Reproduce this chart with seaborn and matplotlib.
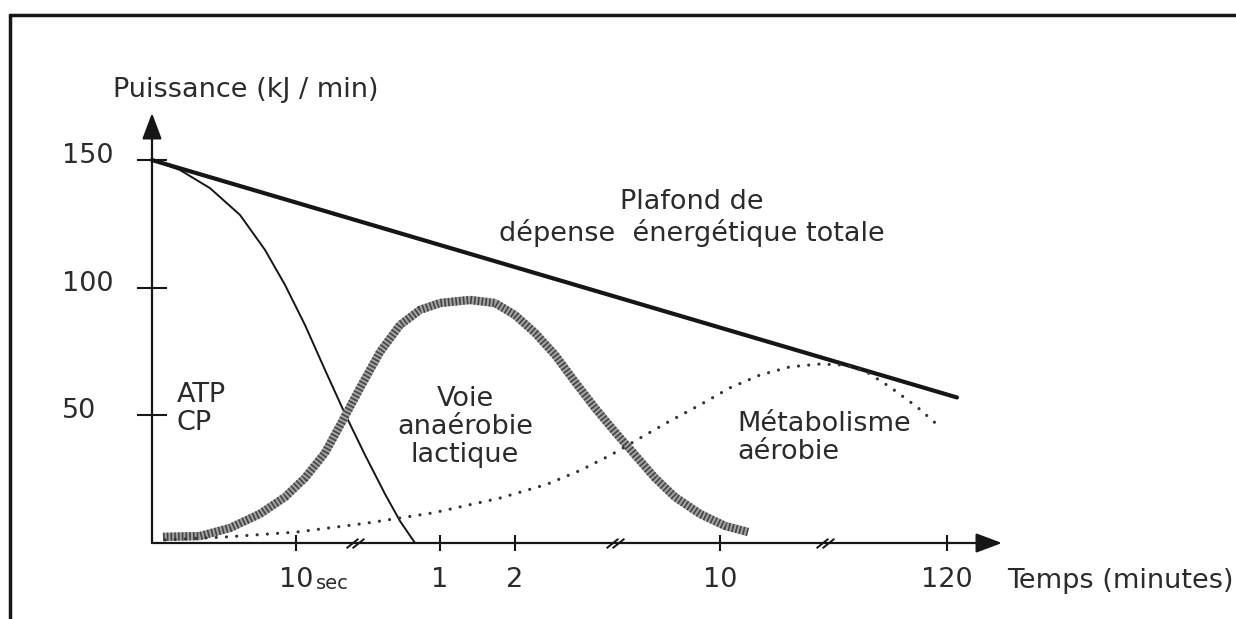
import matplotlib.pyplot as plt
import seaborn as sns
from matplotlib.lines import Line2D
from matplotlib.transforms import ScaledTranslation

# x is a schematic position along the time axis (not to scale), y is power in kJ/min
ceiling_x = [0, 805]
ceiling_y = [150, 57]

atp_x = [0, 28, 58, 88, 113, 133, 153, 173, 193, 213, 233, 248, 263]
atp_y = [150, 146.1, 139.0, 128.5, 114.8, 101.1, 85.4, 67.8, 50.6, 34.5, 19.2, 8.6, 0]

lactic_x = [11, 48, 78, 108, 133, 153, 173, 191, 208, 228, 248, 268, 288, 318, 343,
            363, 383, 403, 423, 443, 463, 483, 503, 523, 548, 573, 596]
lactic_y = [2.4, 2.7, 5.9, 11.4, 18.0, 25.5, 35.3, 48.2, 60.7, 74.8, 85.4, 91.3, 94.0,
            95.2, 94.0, 89.3, 82.3, 73.7, 63.1, 52.9, 43.5, 34.5, 25.5, 18.0, 11.4,
            6.7, 4.3]

aerobic_x = [13, 75, 145, 215, 281, 348, 395, 428, 458, 488, 518, 548, 578, 608, 638,
             668, 693, 715, 738, 765, 788]
aerobic_y = [1.2, 2.4, 4.3, 7.8, 11.8, 17.6, 23.0, 28.4, 34.3, 41.1, 47.8, 54.1, 60.8,
             65.8, 69.0, 70.1, 69.7, 66.9, 61.1, 53.3, 45.4]

x_tick_pos = [144, 288, 363, 568, 795]
x_tick_labels = ['10', '1', '2', '10', '120']
y_tick_pos = [50, 100, 150]
break_pos = [203, 463, 673]

ink = '#161616'
text_c = '#2b2b2b'
fs = 19.5

sns.set_theme(style='white')
plt.rcParams['font.family'] = ['DejaVu Sans']

W, H = 1236, 619
fig = plt.figure(figsize=(W / 100, H / 100), dpi=100)
ax = fig.add_axes([152 / W, 1 - 543 / H, 850 / W, 430 / H])
ax.set_xlim(0, 850)
ax.set_ylim(0, 430 / 2.553)
for s in ax.spines.values():
    s.set_visible(False)

# curves
sns.lineplot(x=ceiling_x, y=ceiling_y, ax=ax, color=ink, linewidth=3,
             estimator=None, errorbar=None, clip_on=False)
sns.lineplot(x=atp_x, y=atp_y, ax=ax, color=ink, linewidth=1.4,
             estimator=None, errorbar=None, clip_on=False)
sns.lineplot(x=lactic_x, y=lactic_y, ax=ax, color='#a2a2a2', linewidth=6,
             estimator=None, errorbar=None, clip_on=False, solid_capstyle='butt')
sns.lineplot(x=lactic_x, y=lactic_y, ax=ax, color='#444444', linewidth=6,
             estimator=None, errorbar=None, clip_on=False,
             linestyle=(0, (0.2, 0.25)), dash_capstyle='butt')
sns.lineplot(x=aerobic_x, y=aerobic_y, ax=ax, color='#333333', linewidth=2.3,
             estimator=None, errorbar=None, clip_on=False,
             linestyle=(0, (0.01, 3.2)), dash_capstyle='round')

# axes with arrow heads
arrow = dict(arrowstyle='-|>,head_length=0.8,head_width=0.3', mutation_scale=20,
             lw=1.6, color=ink, shrinkA=0, shrinkB=0)
ax.annotate('', xy=(0, 1), xytext=(0, 0), xycoords='axes fraction',
            arrowprops=arrow, annotation_clip=False)
ax.annotate('', xy=(1, 0), xytext=(0, 0), xycoords='axes fraction',
            arrowprops=arrow, annotation_clip=False)

# axis breaks
for b in break_pos:
    ax.plot([b - 3, b + 3], [0, 0], ls='none', marker=[(-1, -0.8), (1, 0.8)],
            markersize=8.5, markeredgewidth=1.4, color=ink, clip_on=False)

# ticks
ax.set_xticks(x_tick_pos, x_tick_labels)
ax.set_yticks(y_tick_pos, [str(v) for v in y_tick_pos])
ax.tick_params(axis='x', bottom=True, direction='inout', length=12, width=1.5,
               color=ink, pad=11, labelsize=fs, labelcolor=text_c)
ax.tick_params(axis='y', left=True, direction='inout', length=22, width=1.5,
               color=ink, pad=54, labelsize=fs, labelcolor=text_c)
for lab in ax.get_yticklabels():
    lab.set_ha('left')
    lab.set_transform(lab.get_transform() + ScaledTranslation(0, 0.07, fig.dpi_scale_trans))

ax.text(180, -16, 'sec', fontsize=14, color=text_c, ha='center', va='center')
ax.text(855, -15, 'Temps (minutes)', fontsize=fs, color=text_c, ha='left', va='center')
ax.text(-39, 177.4, 'Puissance (kJ / min)', fontsize=fs, color=text_c,
        ha='left', va='center')

# region labels
ax.text(540, 127.3, 'Plafond de\ndépense  énergétique totale', fontsize=fs,
        color=text_c, ha='center', va='center', linespacing=1.2)
ax.text(25, 52.5, 'ATP\nCP', fontsize=fs, color=text_c, ha='left', va='center',
        linespacing=1.1)
ax.text(313, 45.4, 'Voie\nanaérobie\nlactique', fontsize=fs, color=text_c,
        ha='center', va='center', linespacing=1.1)
ax.text(585, 41.1, 'Métabolisme\naérobie', fontsize=fs, color=text_c,
        ha='left', va='center', linespacing=1.1)

# scan frame (top and left border)
top = 1 - 15 / H
left = 10 / W
fig.add_artist(Line2D([left, 1], [top, top], transform=fig.transFigure, color=ink, lw=2.5))
fig.add_artist(Line2D([left, left], [0, top], transform=fig.transFigure, color=ink, lw=2.5))

fig.savefig('out.png', dpi=100)
